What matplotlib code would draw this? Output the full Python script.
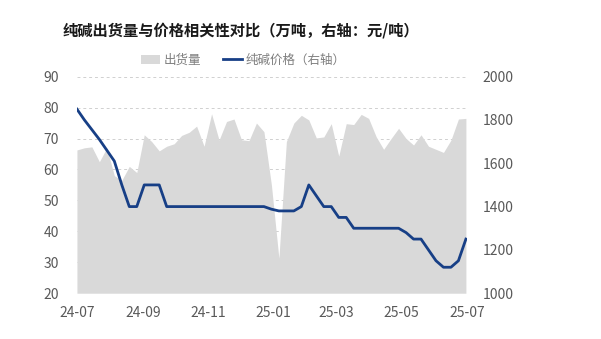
import matplotlib
matplotlib.use("Agg")
import matplotlib.pyplot as plt
from matplotlib.patches import Patch
from matplotlib.lines import Line2D
import pandas as pd

plt.rcParams['font.family'] = ['Noto Sans CJK SC', 'DejaVu Sans']

# weekly data, 2024-07 .. 2025-07
weeks = pd.date_range("2024-07-01", periods=53, freq="7D")

volume = [
    66.3, 67.0, 67.3, 62.5, 67.0, 58.0, 56.5, 61.0, 59.0, 71.2,
    69.0, 66.0, 67.5, 68.3, 71.0, 72.0, 74.0, 67.5, 78.0, 69.5,
    75.5, 76.3, 69.6, 69.3, 75.0, 72.2, 55.0, 31.3, 69.0, 75.0,
    77.5, 76.0, 70.2, 70.5, 74.8, 64.3, 74.8, 74.5, 77.8, 76.5,
    70.6, 66.5, 70.0, 73.3, 70.0, 67.9, 71.2, 67.5, 66.5, 65.5,
    69.5, 76.3, 76.5,
]

price = [
    1850, 1800, 1755, 1710, 1660, 1610, 1500, 1400, 1400, 1500,
    1500, 1500, 1400, 1400, 1400, 1400, 1400, 1400, 1400, 1400,
    1400, 1400, 1400, 1400, 1400, 1400, 1388, 1380, 1380, 1380,
    1400, 1500, 1450, 1400, 1400, 1350, 1350, 1300, 1300, 1300,
    1300, 1300, 1300, 1300, 1280, 1250, 1250, 1200, 1150, 1120,
    1120, 1150, 1250,
]

tick_dates = ["2024-07-01", "2024-09-01", "2024-11-01", "2025-01-01",
              "2025-03-01", "2025-05-01", "2025-07-01"]
tick_labels = ["24-07", "24-09", "24-11", "25-01", "25-03", "25-05", "25-07"]

title = "纯碱出货量与价格相关性对比（万吨，右轴：元/吨）"

gray = "#d9d9d9"
blue = "#173f86"
txt = "#595959"

fig = plt.figure(figsize=(6.01, 3.39), dpi=100)
ax = fig.add_axes([0.128, 0.135, 0.649, 0.639])
ax2 = ax.twinx()

ax.fill_between(weeks, 20, volume, color=gray, lw=0, zorder=2)
ax2.plot(weeks, price, color=blue, lw=2.0, zorder=3)

ax.set_ylim(20, 90)
ax.set_yticks(range(20, 91, 10))
ax2.set_ylim(1000, 2000)
ax2.set_yticks(range(1000, 2001, 200))
ax.set_xlim(pd.Timestamp("2024-07-01"), pd.Timestamp("2025-06-30"))

ax.set_xticks(pd.to_datetime(tick_dates))
ax.set_xticklabels(tick_labels)

ax.grid(axis='y', linestyle=(0, (3, 3)), color="#d0d0d0", lw=0.7, zorder=0)
ax.set_axisbelow(True)

for a in (ax, ax2):
    for s in a.spines.values():
        s.set_visible(False)
    a.tick_params(length=0, labelsize=10, labelcolor=txt)
ax.tick_params(axis='y', pad=13)
ax2.tick_params(axis='y', pad=11)
ax.tick_params(axis='x', pad=9)

fig.text(0.105, 0.91, title, fontsize=11, fontweight='bold',
         color="#1a1a1a", ha='left', va='center')

handles = [Patch(facecolor=gray, edgecolor='none'),
           Line2D([0], [0], color=blue, lw=2.0)]
fig.legend(handles, ["出货量", "纯碱价格（右轴）"], loc='center',
           bbox_to_anchor=(0.405, 0.823), ncol=2, frameon=False,
           fontsize=9, labelcolor="#7f7f7f", handlelength=1.5,
           handleheight=0.7, columnspacing=1.8, handletextpad=0.3)

fig.savefig("out.png", dpi=100)
